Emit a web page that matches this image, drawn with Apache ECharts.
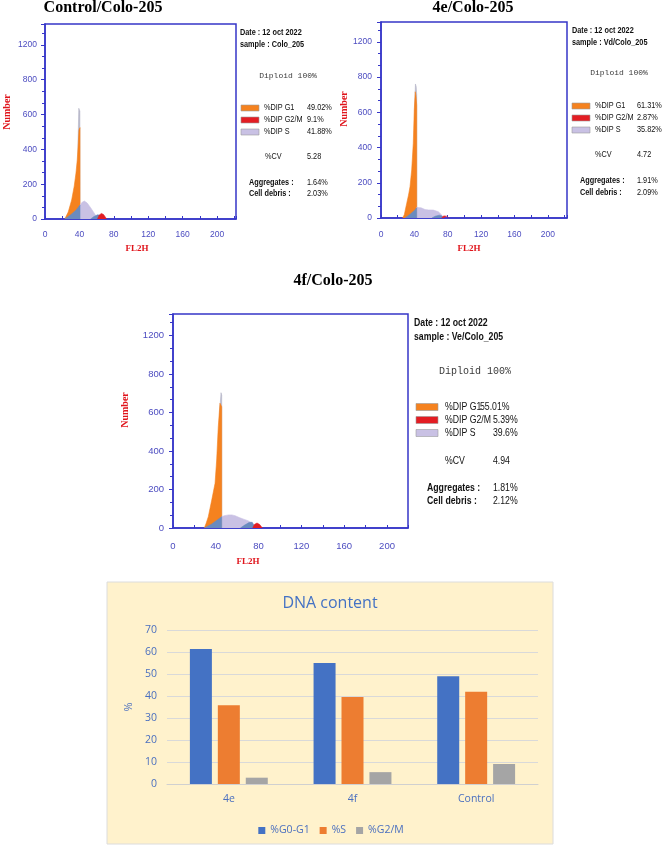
<!DOCTYPE html>
<html><head><meta charset="utf-8">
<script src="https://cdn.jsdelivr.net/npm/echarts@6/dist/echarts.min.js"></script>
<style>html,body{margin:0;padding:0;background:#fff}#c{width:662px;height:847px}</style>
</head><body><div id="c"></div>
<script>
// ================= DATA =================
const panelTitles = ['Control/Colo-205', '4e/Colo-205', '4f/Colo-205'];
const dateTexts = ['Date : 12 oct 2022', 'Date : 12 oct 2022', 'Date : 12 oct 2022'];
const sampleTexts = ['sample : Colo_205', 'sample : Vd/Colo_205', 'sample : Ve/Colo_205'];
const diploidTexts = ['Diploid 100%', 'Diploid 100%', 'Diploid 100%'];
const phaseLabels = ['%DIP G1', '%DIP G2/M', '%DIP S'];
const g1Pct = ['49.02%', '61.31%', '55.01%'];
const g2mPct = ['9.1%', '2.87%', '5.39%'];
const sPct = ['41.88%', '35.82%', '39.6%'];
const cvLabel = '%CV';
const cvVals = ['5.28', '4.72', '4.94'];
const aggLabel = 'Aggregates :';
const aggVals = ['1.64%', '1.91%', '1.81%'];
const debrisLabel = 'Cell debris :';
const debrisVals = ['2.03%', '2.09%', '2.12%'];
const histXName = 'FL2H';
const histYName = 'Number';
const histXTicks = [0, 40, 80, 120, 160, 200];
const histYTickLabels = ['0', '200', '400', '600', '800', '1200'];

// histogram components per panel: [FL2H channel, count]
// Control/Colo-205
const rawControl = [[38.2, 0], [38.4, 440], [39.3, 636], [40.5, 620], [40.7, 0]];
const g1Control = [[23, 0], [27, 40], [31, 109], [34, 190], [36, 264], [37.5, 340], [38.7, 436], [39.5, 511], [40.7, 525], [40.7, 0]];
const sControl = [[40.7, 0], [40.7, 80], [43, 95], [45.7, 103], [49, 92], [53, 65], [57, 35], [60, 12], [61, 0]];
const sLowControl = [[23, 0], [30, 25], [36, 50], [40.7, 80], [40.7, 0]];
const sHighControl = [[53, 0], [57, 14], [61, 24], [64, 22], [67, 0]];
const g2mControl = [[61, 0], [63, 22], [65.5, 32], [68, 26], [70, 12], [71.5, 0]];
// 4e/Colo-205
const raw4e = [[40, 0], [40.2, 600], [41.3, 761], [42.2, 745], [42.8, 700], [42.8, 0]];
const g14e = [[26, 0], [28, 20], [30.8, 83], [33, 130], [34.8, 178], [36.8, 273], [38.7, 424], [39.9, 613], [41.1, 717], [42, 690], [42.8, 640], [42.8, 0]];
const s4e = [[42.8, 0], [42.8, 60], [44.7, 66], [48, 58], [52.8, 48], [57, 46], [62.7, 45], [68.7, 36], [72.8, 17], [74.7, 0]];
const sLow4e = [[28.8, 0], [35, 22], [40, 42], [42.8, 58], [42.8, 0]];
const sHigh4e = [[61, 0], [65, 10], [70, 16], [73, 12], [75, 0]];
const g2m4e = [[72.8, 0], [75, 12], [77, 17], [79, 10], [80.7, 0]];
// 4f/Colo-205
const raw4f = [[43, 0], [43.5, 600], [44.9, 703], [45.5, 690], [45.5, 0]];
const g14f = [[29.3, 0], [31, 25], [33, 59], [36.2, 145], [39.3, 232], [40.8, 353], [42.3, 526], [43.9, 648], [44.8, 640], [45.5, 630], [45.5, 0]];
const s4f = [[45.5, 0], [45.5, 59], [48, 64], [52, 68], [55, 68], [58, 64], [62, 54], [66, 46], [70, 38], [74, 26], [78, 0]];
const sLow4f = [[29.3, 0], [36, 20], [41, 40], [45.5, 59], [45.5, 0]];
const sHigh4f = [[63, 0], [67, 15], [71, 28], [74, 30], [77, 0]];
const g2m4f = [[74.5, 0], [76, 18], [78.5, 26], [81, 18], [83.5, 0]];

// DNA content bar chart
const barTitle = 'DNA content';
const barCategories = ['4e', '4f', 'Control'];
const barSeriesNames = ['%G0-G1', '%S', '%G2/M'];
const g0g1Values = [61.31, 55.01, 49.02];
const sValues = [35.82, 39.6, 41.88];
const g2mValues = [2.87, 5.39, 9.1];
const barYName = '%';

// ================= LAYOUT / STYLE =================
const BLUE = '#3636c8', LBL = '#4c4cc0', RED = '#e0151c';
const C_G1 = '#f5821f', C_S = '#c9c1e4', C_SB = '#6a8bbf', C_G2 = '#e31d23', C_RAW = '#b6b6c8';
const SANS = "'Liberation Sans', 'DejaVu Sans', sans-serif";
const SERIF = "'Liberation Serif', 'DejaVu Serif', serif";
const MONO = "'Liberation Mono', 'DejaVu Sans Mono', monospace";
const OPEN = "'Open Sans', 'Noto Sans', sans-serif";
const NARROW_SCALE = 0.83;

const panels = [
  { grid: { left: 45, top: 24, width: 191, height: 195 }, xMax: 222, yMax: 1120, lblSize: 8.5, xMargin: 11, yMargin: 8,
    title: [103, 8], fl: [137, 249], num: [7, 112],
    txt: { f: 8.8, date: [240, 33], sample: [240, 45], dip: [288, 76], dipF: 8, sw: [241, 18, 6], rows: [108, 120, 132], lab: 264,
      vals: [307, 307, 307], cvX: 307, cv: [265, 157], agg: [249, 183], deb: [249, 194], aggVal: 307 },
    series: [rawControl, g1Control, sControl, sLowControl, sHighControl, g2mControl] },
  { grid: { left: 381, top: 22, width: 186, height: 196 }, xMax: 223, yMax: 1113, lblSize: 8.5, xMargin: 12, yMargin: 9,
    title: [473, 8], fl: [469, 249], num: [344, 109],
    txt: { f: 8.8, date: [572, 31], sample: [572, 43], dip: [619, 73], dipF: 8, sw: [572, 18, 6], rows: [106, 118, 130], lab: 595,
      vals: [637, 637, 637], cvX: 637, cv: [595, 155], agg: [580, 181], deb: [580, 193], aggVal: 637 },
    series: [raw4e, g14e, s4e, sLow4e, sHigh4e, g2m4e] },
  { grid: { left: 173, top: 314, width: 235, height: 214 }, xMax: 219.6, yMax: 1112, lblSize: 9.5, xMargin: 13, yMargin: 9,
    title: [333, 281], fl: [248, 562], num: [125, 410],
    txt: { f: 10.5, date: [414, 323], sample: [414, 337], dip: [475, 371], dipF: 10, sw: [416, 22, 7], rows: [407, 420, 433], lab: 445,
      vals: [480, 493, 493], cvX: 493, cv: [445, 461], agg: [427, 488], deb: [427, 501], aggVal: 493 },
    series: [raw4f, g14f, s4f, sLow4f, sHigh4f, g2m4f] }
];
const histColors = [C_RAW, C_G1, C_S, C_SB, C_SB, C_G2];
const histNames = ['raw', 'G1', 'S', 'S model', 'S model 2', 'G2/M'];

// ================= BUILD =================
const grids = [], xAxes = [], yAxes = [], series = [], graphics = [];

function text(x, y, str, o) {
  o = o || {};
  graphics.push({
    type: 'text', x: x, y: y, rotation: o.rot || 0, scaleX: o.sx || 1, z: 100,
    style: {
      text: str, fill: o.color || '#111', fontSize: o.size || 9, fontFamily: o.family || SANS,
      fontWeight: o.weight || 'normal', align: o.align || 'left', verticalAlign: 'middle',
      textAlign: o.align || 'left', textVerticalAlign: 'middle'
    }
  });
}

panels.forEach((p, i) => {
  grids.push(Object.assign({ show: true, borderColor: BLUE, borderWidth: 1.5, backgroundColor: '#fff' }, p.grid));
  xAxes.push({
    type: 'value', gridIndex: i, min: 0, max: p.xMax, interval: 40,
    axisLine: { show: true, lineStyle: { color: BLUE, width: 1.5 } },
    axisTick: { show: true, inside: true, length: 3, lineStyle: { color: BLUE } },
    minorTick: { show: true, splitNumber: 2, length: 3, lineStyle: { color: BLUE } },
    splitLine: { show: false },
    axisLabel: { color: LBL, fontSize: p.lblSize, fontFamily: SANS, margin: p.xMargin, showMaxLabel: false,
      formatter: v => histXTicks.indexOf(v) >= 0 ? String(v) : '' }
  });
  yAxes.push({
    type: 'value', gridIndex: i, min: 0, max: p.yMax, interval: 200,
    axisLine: { show: true, lineStyle: { color: BLUE, width: 1.5 } },
    axisTick: { show: true, inside: false, length: 4, lineStyle: { color: BLUE } },
    minorTick: { show: true, splitNumber: 3, length: 3, lineStyle: { color: BLUE } },
    splitLine: { show: false },
    axisLabel: { color: LBL, fontSize: p.lblSize, fontFamily: SANS, margin: p.yMargin, showMaxLabel: false,
      formatter: v => { const k = Math.round(v / 200); return (Math.abs(v - k * 200) < 1e-6 && histYTickLabels[k]) ? histYTickLabels[k] : ''; } }
  });
  p.series.forEach((d, j) => {
    series.push({
      type: 'line', name: histNames[j] + ' ' + i, xAxisIndex: i, yAxisIndex: i, data: d,
      symbol: 'none', silent: true, z: 2 + j,
      lineStyle: { width: 0.6, color: histColors[j] },
      areaStyle: { color: histColors[j], opacity: 1 }
    });
  });

  // texts
  const t = p.txt, sx = NARROW_SCALE;
  text(p.title[0], p.title[1], panelTitles[i], { size: 16, family: SERIF, weight: 'bold', align: 'center', color: '#000' });
  text(p.fl[0], p.fl[1], histXName, { size: 9, family: SERIF, weight: 'bold', align: 'center', color: RED });
  text(p.num[0], p.num[1], histYName, { size: 10, family: SERIF, weight: 'bold', align: 'center', color: RED, rot: Math.PI / 2 });
  text(t.date[0], t.date[1], dateTexts[i], { size: t.f, weight: 'bold', sx: sx });
  text(t.sample[0], t.sample[1], sampleTexts[i], { size: t.f, weight: 'bold', sx: sx });
  text(t.dip[0], t.dip[1], diploidTexts[i], { size: t.dipF, family: MONO, align: 'center', color: '#3a3a3a' });
  const swC = [C_G1, C_G2, C_S];
  const vals = [g1Pct[i], g2mPct[i], sPct[i]];
  t.rows.forEach((ry, r) => {
    graphics.push({ type: 'rect', z: 100, shape: { x: t.sw[0], y: ry - t.sw[2] / 2, width: t.sw[1], height: t.sw[2] },
      style: { fill: swC[r], stroke: '#9a9a9a', lineWidth: 0.6 } });
    text(t.lab, ry, phaseLabels[r], { size: t.f, sx: sx });
    text(t.vals[r], ry, vals[r], { size: t.f, sx: sx });
  });
  text(t.cv[0], t.cv[1], cvLabel, { size: t.f, sx: sx });
  text(t.cvX, t.cv[1], cvVals[i], { size: t.f, sx: sx });
  text(t.agg[0], t.agg[1], aggLabel, { size: t.f, weight: 'bold', sx: sx });
  text(t.aggVal, t.agg[1], aggVals[i], { size: t.f, sx: sx });
  text(t.deb[0], t.deb[1], debrisLabel, { size: t.f, weight: 'bold', sx: sx });
  text(t.aggVal, t.deb[1], debrisVals[i], { size: t.f, sx: sx });
});

// ---- bar chart ----
const BAR_TXT = '#4a6fbf';
graphics.push({ type: 'rect', z: -10, shape: { x: 107, y: 582, width: 446, height: 262 },
  style: { fill: '#fff2cc', stroke: '#dcdcdc', lineWidth: 1 } });
text(330, 603, barTitle, { size: 16, family: OPEN, align: 'center', color: '#4472c4' });

grids.push({ left: 167, top: 630, width: 371, height: 154 });
xAxes.push({
  type: 'category', gridIndex: 3, data: barCategories,
  axisLine: { show: true, lineStyle: { color: '#d0d0d0' } }, axisTick: { show: false },
  axisLabel: { color: BAR_TXT, fontSize: 10.5, fontFamily: OPEN, margin: 10 }
});
yAxes.push({
  type: 'value', gridIndex: 3, min: 0, max: 70, interval: 10,
  name: barYName, nameLocation: 'middle', nameGap: 33, nameRotate: 90,
  nameTextStyle: { color: BAR_TXT, fontSize: 11, fontFamily: OPEN },
  axisLine: { show: false }, axisTick: { show: false },
  splitLine: { lineStyle: { color: '#d9d9d9' } },
  axisLabel: { color: BAR_TXT, fontSize: 10.5, fontFamily: OPEN, margin: 10 }
});
const barColors = ['#4472c4', '#ed7d31', '#a5a5a5'];
[g0g1Values, sValues, g2mValues].forEach((vals, k) => {
  series.push({
    type: 'bar', name: barSeriesNames[k], xAxisIndex: 3, yAxisIndex: 3, data: vals,
    barWidth: 22, barGap: '27%', itemStyle: { color: barColors[k] }
  });
});

const chart = echarts.init(document.getElementById('c'), null, { renderer: 'canvas' });
chart.setOption({
  animation: false,
  backgroundColor: '#ffffff',
  grid: grids, xAxis: xAxes, yAxis: yAxes, series: series,
  legend: {
    data: barSeriesNames, top: 820, left: 'center', icon: 'rect', itemWidth: 7, itemHeight: 7, itemGap: 10,
    textStyle: { color: BAR_TXT, fontSize: 10.5, fontFamily: OPEN }
  },
  graphic: graphics
});
</script></body></html>
